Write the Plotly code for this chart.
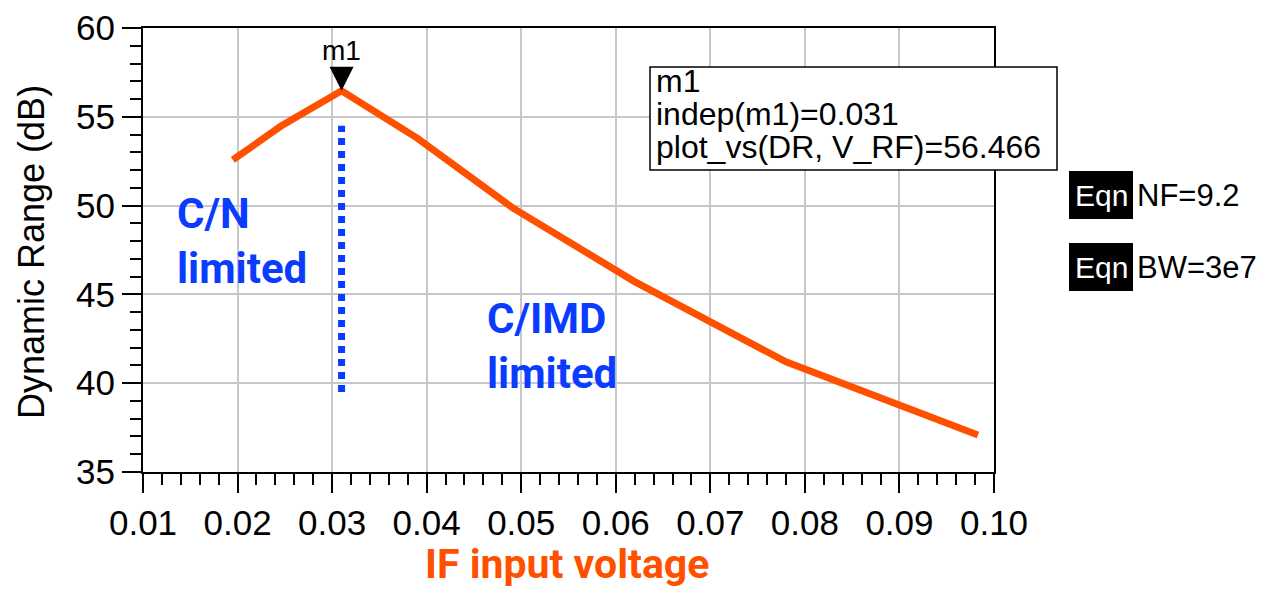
import plotly.graph_objects as go

# ---- data ----
v_rf = [0.0195, 0.0246, 0.031, 0.039, 0.0491, 0.0619, 0.078, 0.0983]
dyn_range = [52.57, 54.48, 56.466, 53.8, 49.87, 45.75, 41.2, 37.08]
m1_x = 0.031
m1_y = 56.466
boundary_y = [39.5, 54.5]
x_ticks = [0.01, 0.02, 0.03, 0.04, 0.05, 0.06, 0.07, 0.08, 0.09, 0.10]
x_ticklabels = ["0.01", "0.02", "0.03", "0.04", "0.05", "0.06", "0.07", "0.08", "0.09", "0.10"]
y_ticks = [35, 40, 45, 50, 55, 60]
y_ticklabels = ["35", "40", "45", "50", "55", "60"]
box_lines = ["m1", "indep(m1)=0.031", "plot_vs(DR, V_RF)=56.466"]
eqn_lines = ["NF=9.2", "BW=3e7"]

# the page body has an 8px margin; size the figure so it fits the 1275x597 window
OFF = 8
W, H = 1275 - 2 * OFF, 597 - 2 * OFF
ML, MT = 143 - OFF, 28 - OFF
PW, PH = 851, 444
MR, MB = W - ML - PW, H - MT - PH
XR = [0.01, 0.10]
YR = [35, 60]

def px(xp):  # page pixel x -> paper fraction
    return (xp - OFF - ML) / PW

def py(yp):  # page pixel y -> paper fraction
    return (MT + PH - (yp - OFF)) / PH

FONT = "Liberation Sans, Arial, sans-serif"
BOLDNARROW = "Roboto, Liberation Sans, sans-serif"
ORANGE = "#ff5000"
BLUE = "#0a3cff"

fig = go.Figure()

fig.add_trace(go.Scatter(
    x=[m1_x, m1_x], y=boundary_y, mode="lines",
    line=dict(color=BLUE, width=7, dash="7px,6px"),
    hoverinfo="skip", showlegend=False))

fig.add_trace(go.Scatter(
    x=v_rf, y=dyn_range, mode="lines",
    line=dict(color=ORANGE, width=7),
    showlegend=False, name="DR"))

fig.add_trace(go.Scatter(
    x=[m1_x], y=[m1_y], mode="markers",
    marker=dict(symbol="arrow-down", size=24, color="black", line=dict(width=0)),
    showlegend=False, hoverinfo="skip", cliponaxis=False))

ann = []
ann.append(dict(x=m1_x, y=m1_y, xref="x", yref="y", text="m1", showarrow=False,
                yanchor="bottom", xanchor="center", yshift=23,
                font=dict(family=FONT, size=28, color="black")))
ann.append(dict(x=0.01338, y=51.05, xref="x", yref="y", text="C/N<br>limited",
                showarrow=False, xanchor="left", yanchor="top", align="left",
                font=dict(family=BOLDNARROW, size=42, color=BLUE, weight="bold")))
ann.append(dict(x=0.04617, y=45.14, xref="x", yref="y", text="C/IMD<br>limited",
                showarrow=False, xanchor="left", yanchor="top", align="left",
                font=dict(family=BOLDNARROW, size=42, color=BLUE, weight="bold")))
ann.append(dict(x=px(567), y=py(589), xref="paper", yref="paper", text="IF input voltage",
                showarrow=False, xanchor="center", yanchor="bottom", borderpad=0,
                font=dict(family=BOLDNARROW, size=41, color=ORANGE, weight="bold")))
ann.append(dict(x=px(32), y=py(252), xref="paper", yref="paper", text="Dynamic Range (dB)",
                showarrow=False, xanchor="center", yanchor="middle", textangle=-90,
                font=dict(family=FONT, size=36, color="black")))
for i, t in enumerate(box_lines):
    ann.append(dict(x=px(654), y=py(81 + 33 * i), xref="paper", yref="paper", text=t,
                    showarrow=False, xanchor="left", yanchor="middle",
                    font=dict(family=FONT, size=32, color="black")))

shapes = [dict(type="rect", xref="paper", yref="paper",
               x0=px(650), x1=px(1057), y0=py(170), y1=py(67),
               line=dict(color="black", width=1.5), fillcolor="white", layer="above")]

for i, t in enumerate(eqn_lines):
    yc = 195 + 72 * i
    shapes.append(dict(type="rect", xref="paper", yref="paper",
                       x0=px(1069), x1=px(1133), y0=py(yc + 24), y1=py(yc - 24),
                       line=dict(width=0), fillcolor="black", layer="above"))
    ann.append(dict(x=px(1101), y=py(yc), xref="paper", yref="paper", text="Eqn",
                    showarrow=False, xanchor="center", yanchor="middle",
                    font=dict(family=FONT, size=30, color="white")))
    ann.append(dict(x=px(1135), y=py(yc), xref="paper", yref="paper", text=t,
                    showarrow=False, xanchor="left", yanchor="middle",
                    font=dict(family=FONT, size=31, color="black")))

fig.update_layout(
    width=W, height=H,
    margin=dict(l=ML, r=MR, t=MT, b=MB, pad=0, autoexpand=False),
    paper_bgcolor="white", plot_bgcolor="white",
    annotations=ann, shapes=shapes,
    font=dict(family=FONT, color="black"),
)
fig.update_xaxes(
    range=XR, tickvals=x_ticks, ticktext=x_ticklabels, automargin=False,
    ticks="outside", ticklen=19, tickwidth=1.5, tickcolor="black",
    showline=True, linecolor="black", linewidth=2, mirror=True,
    showgrid=True, gridcolor="#c8c8c8", gridwidth=1.5, zeroline=False,
    tickfont=dict(family=FONT, size=35, color="black"),
    minor=dict(tick0=0.01, dtick=0.002, ticks="outside", ticklen=11,
               tickwidth=1.5, tickcolor="black", showgrid=False),
)
fig.update_yaxes(
    range=YR, tickvals=y_ticks, ticktext=y_ticklabels, automargin=False,
    ticks="outside", ticklen=19, tickwidth=1.5, tickcolor="black",
    showline=True, linecolor="black", linewidth=2, mirror=True,
    showgrid=True, gridcolor="#c8c8c8", gridwidth=1.5, zeroline=False,
    tickfont=dict(family=FONT, size=35, color="black"),
    minor=dict(tick0=35, dtick=1, ticks="outside", ticklen=11,
               tickwidth=1.5, tickcolor="black", showgrid=False),
)

fig.write_html("out.html")
